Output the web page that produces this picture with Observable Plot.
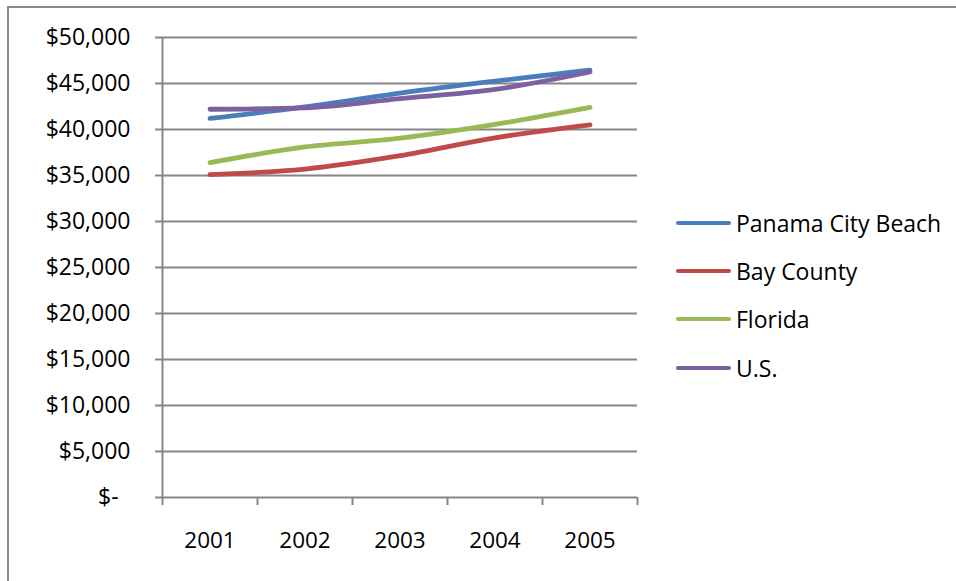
<!DOCTYPE html>
<html>
<head>
<meta charset="utf-8">
<script src="https://cdn.jsdelivr.net/npm/d3@7"></script>
<script src="https://cdn.jsdelivr.net/npm/@observablehq/plot@0.6"></script>
<style>
  html, body { margin: 0; padding: 0; background: #fff; }
  #wrap { position: relative; width: 956px; height: 581px; overflow: hidden; font-family: "Open Sans", sans-serif; }
  #frame { position: absolute; left: 7px; top: 6px; width: 1000px; height: 1000px; border-top: 2px solid #8a8a8a; border-left: 2px solid #8a8a8a; box-sizing: border-box; }
  #chart { position: absolute; left: 0; top: 0; }
  #legend { position: absolute; left: 676px; top: 0; }
  .item { position: absolute; left: 0; display: flex; align-items: center; white-space: nowrap; }
  .sw { width: 55px; height: 4.5px; border-radius: 3px; margin-right: 5px; }
  .lab { font-size: 23px; color: #000; line-height: 1; }
</style>
</head>
<body>
<div id="wrap">
  <div id="frame"></div>
  <div id="chart"></div>
  <div id="legend"></div>
</div>
<script>
const years = [2001, 2002, 2003, 2004, 2005];
const seriesNames = ["Panama City Beach", "Bay County", "Florida", "U.S."];
const panamaCityBeach = [41200, 42450, 43950, 45250, 46450];
const bayCounty = [35100, 35700, 37150, 39100, 40500];
const florida = [36400, 38100, 39050, 40550, 42400];
const us = [42200, 42350, 43350, 44350, 46250];
const colors = ["#4a7ebb", "#be4b48", "#98b954", "#7d60a0"];
const yTicks = [0, 5000, 10000, 15000, 20000, 25000, 30000, 35000, 40000, 45000, 50000];
const xBounds = [2000.5, 2001.5, 2002.5, 2003.5, 2004.5, 2005.5];

const seriesValues = [panamaCityBeach, bayCounty, florida, us];
const rows = seriesNames.flatMap((name, i) =>
  years.map((year, j) => ({series: name, year, value: seriesValues[i][j]}))
);

const grid = "#868686";
const yFormat = v => v === 0 ? "$-\u00a0\u00a0" : "$" + d3.format(",")(v);

const chart = Plot.plot({
  width: 956,
  height: 581,
  marginLeft: 162,
  marginRight: 319,
  marginTop: 37,
  marginBottom: 84,
  style: {fontFamily: "'Open Sans', sans-serif", fontSize: "23px", background: "transparent", color: "#000"},
  x: {type: "linear", domain: [2000.5, 2005.5]},
  y: {domain: [0, 50000]},
  color: {domain: seriesNames, range: colors},
  marks: [
    Plot.ruleY(yTicks, {stroke: grid, strokeWidth: 2}),
    Plot.ruleX([2000.5], {stroke: grid, strokeWidth: 2}),
    Plot.axisY({ticks: yTicks, tickSize: 7, tickPadding: 25, tickFormat: yFormat, stroke: grid, strokeWidth: 2, strokeOpacity: 1, fill: "#000", fontSize: 23, label: null}),
    Plot.axisX({ticks: xBounds, tickSize: 8, tickFormat: () => "", stroke: grid, strokeWidth: 2, strokeOpacity: 1, label: null}),
    Plot.axisX({ticks: years, tickSize: 0, tickPadding: 35, tickFormat: d => String(d), fill: "#000", fontSize: 22.5, label: null}),
    Plot.lineY(rows, {x: "year", y: "value", z: "series", stroke: "series", strokeWidth: 4.8, strokeLinecap: "round", strokeLinejoin: "round", curve: "monotone-x"})
  ]
});
document.getElementById("chart").appendChild(chart);

const legend = document.getElementById("legend");
const legendTops = [223, 271, 319, 368];
seriesNames.forEach((name, i) => {
  const item = document.createElement("div");
  item.className = "item";
  item.style.top = (legendTops[i] - 14) + "px";
  item.style.height = "28px";
  const sw = document.createElement("div");
  sw.className = "sw";
  sw.style.background = colors[i];
  const lab = document.createElement("span");
  lab.className = "lab";
  lab.textContent = name;
  item.appendChild(sw);
  item.appendChild(lab);
  legend.appendChild(item);
});
</script>
</body>
</html>
